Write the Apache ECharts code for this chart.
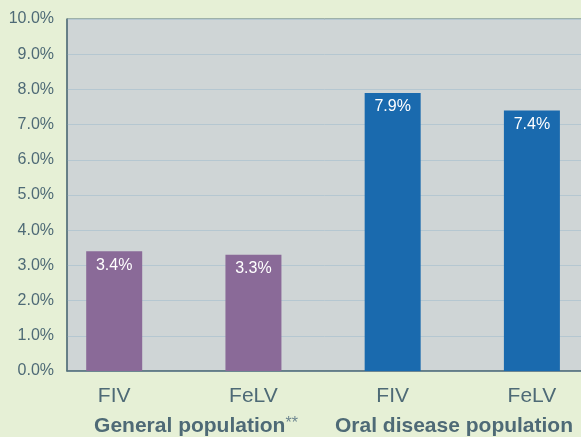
<!DOCTYPE html>
<html>
<head>
<meta charset="utf-8">
<script src="https://cdn.jsdelivr.net/npm/echarts@6/dist/echarts.min.js"></script>
<style>
	html, body { margin: 0; padding: 0; background: #e6f0d6; }
	#chart { width: 581px; height: 437px; }
</style>
</head>
<body>
<div id="chart"></div>
<script>
	// data
	var categories = ['FIV', 'FeLV', 'FIV', 'FeLV'];
	var groups = ['General population', 'Oral disease population'];
	var values = [3.4, 3.3, 7.9, 7.4];
	var barGroup = [0, 0, 1, 1];
	var yTicks = [0, 1, 2, 3, 4, 5, 6, 7, 8, 9, 10];

	var groupColors = ['#8a6a98', '#1a6aae'];
	var textColor = '#4e6a76';

	var myChart = echarts.init(document.getElementById('chart'));

	var barData = values.map(function (v, i) {
		return {
			value: [i, v],
			itemStyle: { color: groupColors[barGroup[i]] }
		};
	});

	var option = {
		backgroundColor: '#e6f0d6',
		textStyle: { fontFamily: 'Liberation Sans, Arial, sans-serif' },
		grid: {
			left: 67, top: 19, right: -2, bottom: 66,
			outerBoundsMode: 'none',
			containLabel: false,
			show: true,
			backgroundColor: '#cfd5d6',
			borderColor: '#56727c',
			borderWidth: 1
		},
		xAxis: [
			{
				type: 'value',
				min: -0.339,
				max: 3.367,
				splitLine: { show: false },
				axisLine: { show: true, onZero: false, lineStyle: { color: '#56727c', width: 1.5 } },
				axisTick: { show: false },
				axisLabel: {
					customValues: [0, 1, 2, 3],
					formatter: function (v) { return categories[Math.round(v)]; },
					color: textColor,
					fontSize: 21,
					margin: 15
				}
			},
			{
				type: 'category',
				position: 'bottom',
				data: groups,
				axisLine: { show: false },
				axisTick: { show: false },
				axisLabel: {
					interval: 0,
					margin: 45,
					formatter: function (v, i) {
						return i === 0 ? '{b|' + v + '}{s|**}' : '{b|' + v + '}';
					},
					rich: {
						b: { color: textColor, fontSize: 21, fontWeight: 'bold' },
						s: { color: '#6d8690', fontSize: 16, verticalAlign: 'top', padding: [0, 0, 4, 0] }
					}
				}
			}
		],
		yAxis: {
			type: 'value',
			min: yTicks[0],
			max: yTicks[yTicks.length - 1],
			interval: 1,
			axisLine: { show: true, onZero: false, lineStyle: { color: '#56727c', width: 1.5 } },
			axisTick: { show: false },
			axisLabel: {
				formatter: function (v) { return v.toFixed(1) + '%'; },
				color: textColor,
				fontSize: 16,
				margin: 13
			},
			splitLine: { show: true, lineStyle: { color: '#b5c7d1', width: 1 } }
		},
		series: [
			{
				type: 'bar',
				xAxisIndex: 0,
				barWidth: 56,
				data: barData,
				label: {
					show: true,
					position: 'insideTop',
					distance: 6,
					color: '#ffffff',
					fontSize: 16,
					formatter: function (p) { return p.value[1].toFixed(1) + '%'; }
				}
			}
		]
	};
	myChart.setOption(option);
</script>
</body>
</html>
